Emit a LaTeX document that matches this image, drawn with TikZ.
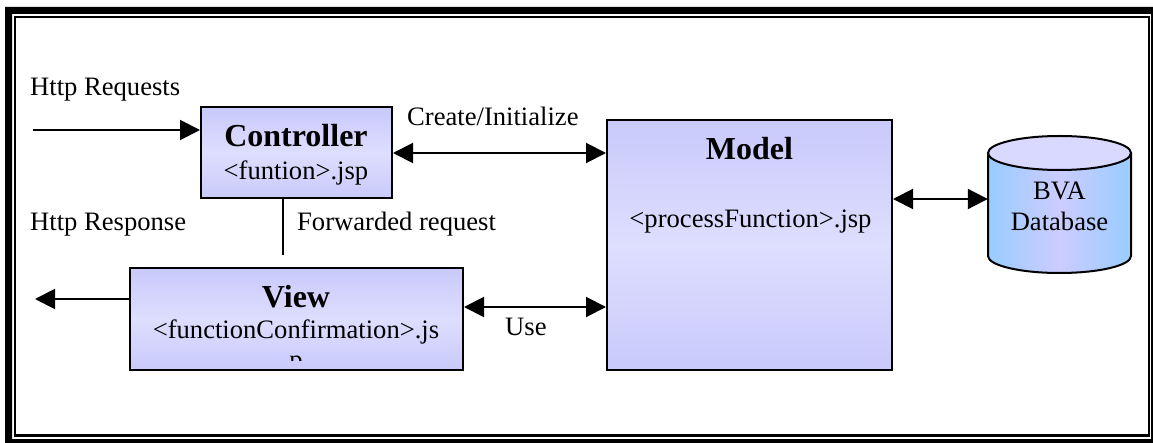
\documentclass[tikz,border=0pt]{standalone}
\usepackage{fontspec}
\setmainfont{Liberation Serif}
\usetikzlibrary{arrows.meta}
\definecolor{boxedge}{HTML}{C9C9FB}
\definecolor{boxmid}{HTML}{DEDEFF}
\definecolor{dbedge}{HTML}{99CCFF}
\definecolor{dbmid}{HTML}{CCCCFF}
\definecolor{dbtop}{HTML}{D9D9FF}
\tikzset{
  x=1pt,y=-1pt,
  box/.style={draw=black,line width=2pt,inner sep=0pt,anchor=north west,
    top color=boxedge,bottom color=boxedge,middle color=boxmid},
  txt/.style={font=\fontsize{26.6}{30}\selectfont,inner sep=0pt,anchor=base,text=black},
  txtl/.style={txt,anchor=base west},
  head/.style={font=\fontsize{32}{36}\selectfont\bfseries,inner sep=0pt,anchor=base,text=black},
  conn/.style={line width=2pt,draw=black},
  one/.style={conn,-{Triangle[length=20pt,width=20pt]}},
  both/.style={conn,{Triangle[length=20pt,width=20pt]}-{Triangle[length=20pt,width=20pt]}},
}
\begin{document}
\begin{tikzpicture}
\useasboundingbox (0,0) rectangle (1153,443);
\fill[white] (0,0) rectangle (1153,443);
% frame
\fill[black,even odd rule] (5,7) rectangle (1153,443) (12,14) rectangle (1151,439);
\draw[black,line width=2.2pt] (15.3,17) rectangle (1149.3,435.5);
% boxes
\node[box,minimum width=191pt,minimum height=91pt] (ctrl) at (200,106.5) {};
\node[box,minimum width=333pt,minimum height=102pt] (view) at (129,267) {};
\node[box,minimum width=285pt,minimum height=250pt] (model) at (606,119) {};
% database
\node[inner sep=0pt,minimum width=143pt,minimum height=137pt] (db) at (1059.5,204.5) {};
\path[left color=dbedge,right color=dbedge,middle color=dbmid]
  (988,153) -- (988,256) arc[start angle=180,end angle=360,x radius=71.5,y radius=-17]
  -- (1131,153) arc[start angle=360,end angle=180,x radius=71.5,y radius=-17] -- cycle;
\draw[line width=2pt,fill=dbtop] (1059.5,153) ellipse[x radius=71.5,y radius=17];
\draw[line width=2pt] (988,153) -- (988,256) arc[start angle=180,end angle=360,x radius=71.5,y radius=-17] -- (1131,153);
% free ends
\coordinate (reqstart) at (33,130);
\coordinate (reqend) at (ctrl.west |- reqstart);
\coordinate (respend) at (35,299);
\coordinate (respstart) at (view.west |- respend);
\coordinate (fwdtop) at (283,198);
\coordinate (fwdend) at (283,255);
\coordinate (useport) at (view.east |- 0,307);
\coordinate (dbport) at (db.west |- 0,199);
% connectors
\draw[one] (reqstart) -- (reqend);
\draw[one] (respstart) -- (respend);
\draw[conn] (fwdtop) -- (fwdend);
\draw[both] (ctrl.east |- 0,153) -- (model.west |- 0,153);
\draw[both] (useport) -- (model.west |- useport);
\draw[both] (model.east |- dbport) -- (dbport);
% labels
\node[txtl] (lreq) at (30,96) {Http Requests};
\node[txtl] (lresp) at (30,231) {Http Response};
\node[txtl] (lcreate) at (407,126) {Create/Initialize};
\node[txtl] (lfwd) at (297,231) {Forwarded request};
\node[txtl] (luse) at (505,335) {Use};
\node[head] (tctrl) at (296,147) {Controller};
\node[txt] (fctrl) at (296,180) {<funtion>.jsp};
\node[head] (tview) at (296,308) {View};
\node[txt] (fview) at (296,338) {<functionConfirmation>.js};
\begin{scope}
  \clip (280,350) rectangle (312,360);
  \node[txt] (fviewp) at (296,368) {p};
\end{scope}
\node[head] (tmodel) at (749.5,160) {Model};
\node[txt] (fmodel) at (750.5,228) {<processFunction>.jsp};
\node[txt] (ldb1) at (1059.5,200) {BVA};
\node[txt] (ldb2) at (1059.5,231) {Database};
\end{tikzpicture}
\end{document}
